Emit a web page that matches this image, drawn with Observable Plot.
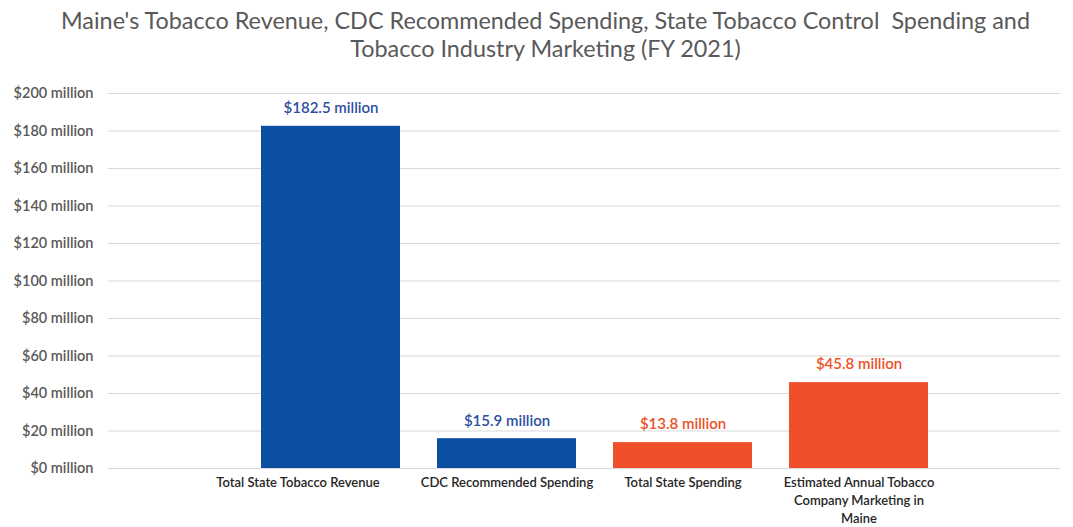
<!DOCTYPE html>
<html>
<head>
<meta charset="utf-8">
<script src="https://cdn.jsdelivr.net/npm/d3@7"></script>
<script src="https://cdn.jsdelivr.net/npm/@observablehq/plot@0.6"></script>
<style>
  html, body { margin: 0; padding: 0; background: #fff; }
  #wrap { width: 1073px; }
  #title { font-family: Lato, "Open Sans", sans-serif; font-size: 23.4px; color: #595959; text-align: center; line-height: 28px; padding-top: 6px; padding-left: 18px; height: 59px; box-sizing: border-box; }
</style>
</head>
<body>
<div id="wrap">
  <div id="title">Maine's Tobacco Revenue, CDC Recommended Spending, State Tobacco Control&nbsp; Spending and<br>Tobacco Industry Marketing (FY 2021)</div>
  <div id="chart"></div>
</div>
<script>
const categories = ["Total State Tobacco Revenue", "CDC Recommended Spending", "Total State Spending", "Estimated Annual Tobacco Company Marketing in Maine"];
const tickLabels = ["Total State Tobacco Revenue", "CDC Recommended Spending", "Total State Spending", "Estimated Annual Tobacco\nCompany Marketing in\nMaine"];
const values = [182.5, 15.9, 13.8, 45.8];
const valueLabels = ["$182.5 million", "$15.9 million", "$13.8 million", "$45.8 million"];
const groups = ["blue", "blue", "orange", "orange"];
const yTicks = [0, 20, 40, 60, 80, 100, 120, 140, 160, 180, 200];

const data = categories.map((c, i) => ({cat: c, value: values[i], label: valueLabels[i], group: groups[i]}));
const colors = {blue: "#0b4ea2", orange: "#ee4f2a"};
const textColors = {blue: "#2d4f9f", orange: "#ec5128"};
const xAxisStyle = {tickSize: 0, tickPadding: 6, tickFormat: (d) => tickLabels[categories.indexOf(d)], fontSize: 13, fill: "#262626", fontWeight: 600, lineHeight: 1.38, label: null};

const plot = Plot.plot({
  width: 1073,
  height: 468,
  marginTop: 34,
  marginBottom: 59,
  marginLeft: 108,
  marginRight: 13,
  style: {fontFamily: "Lato, 'Open Sans', sans-serif", background: "#fff"},
  x: {domain: categories, range: [224, 965], padding: 0.21, label: null},
  y: {domain: [0, 200], label: null},
  marks: [
    Plot.ruleY(yTicks, {stroke: "#d9d9d9", strokeWidth: 1}),
    Plot.barY(data, {x: "cat", y: "value", fill: d => colors[d.group]}),
    Plot.text(data, {x: "cat", y: "value", text: "label", dy: -18, fill: d => textColors[d.group], fontSize: 15, fontWeight: 600}),
    Plot.axisY({ticks: yTicks, tickSize: 0, tickPadding: 15, tickFormat: d => `$${d} million`, fontSize: 14.5, fill: "#595959", fontWeight: 600, label: null}),
    Plot.axisX({...xAxisStyle, ticks: [categories[0]], dx: -33}),
    Plot.axisX({...xAxisStyle, ticks: categories.slice(1)})
  ]
});
document.getElementById("chart").appendChild(plot);
</script>
</body>
</html>
